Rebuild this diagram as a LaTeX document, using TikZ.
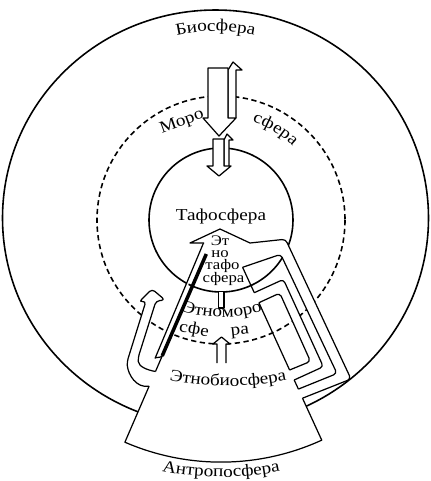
\documentclass[tikz,border=0pt]{standalone}
\usepackage{fontspec}
\setmainfont{Liberation Serif}[FakeStretch=1.15]
\usetikzlibrary{decorations.text}
\newcommand{\lblfont}{\fontsize{9.5}{11}\selectfont}
\newcommand{\stackfont}{\fontsize{8.3}{9}\selectfont}

\begin{document}
\lblfont
\begin{tikzpicture}[x=0.2mm,y=-0.2mm,line join=round,line width=0.7pt,
  sphere/.style={line width=0.9pt},
  moro/.style={line width=0.9pt,dash pattern=on 3pt off 2pt},
  band/.style={fill=white,rounded corners=2pt},
  lbl/.style={font=\lblfont,inner sep=0pt},
  stacklbl/.style={font=\stackfont,inner sep=0pt,anchor=base},
  curvelbl/.style={decorate,decoration={text along path,text align=center,text={|\lblfont|#1}}}]
  \useasboundingbox (0,0) rectangle (430,481);
  \coordinate (O) at (221,220);
  % spheres
  \draw[sphere] (215.5,218) ellipse [x radius=213, y radius=208];
  \fill[white] (O) -- (124.9,442.2) arc[start angle=113.4,end angle=65.4,radius=242] -- cycle;
  \draw[moro] (O) circle[radius=124];
  \draw[sphere] (O) circle[radius=72];
  % bio -> moro -> tafo
  \draw[fill=white] (228,118) -- (228,70) -- (233,62) -- (242,70) -- (236,70) -- (236,118);
  \draw[fill=white] (208,68) -- (228,68) -- (228,118) -- (236,118) -- (219,136) -- (203,118) -- (208,118) -- cycle;
  \draw[fill=white] (224,166) -- (224,140) -- (227,134) -- (233,140) -- (229,140) -- (229,166);
  \draw[fill=white] (213,139) -- (224,139) -- (224,166) -- (231,166) -- (219,176) -- (207,166) -- (213,166) -- cycle;
  % left return arrow
  \draw[band] (149.1,386.2) to[out=190,in=-85] (127,362) -- (146,301) -- (139,302) -- (152,289)
    -- (165,300) -- (156,301) -- (138,358) to[out=-85,in=170] (155.5,371.5);
  \draw[band] (203.9,242) -- (156.5,354.9) to[out=247,in=247] (162.2,355.9);
  % right return bands
  \coordinate (tO1) at (250,243);
  \coordinate (tO2) at (285.5,239.2);
  \coordinate (tO3) at (351,379);
  \coordinate (tO4) at (302.5,398.2);
  \coordinate (tI1) at (242.6,267.3);
  \coordinate (tI2) at (280.7,254.3);
  \coordinate (tI3) at (337,373.5);
  \coordinate (tI4) at (298.4,389.1);
  \coordinate (mO1) at (254.3,292.7);
  \coordinate (mO2) at (283.4,279.4);
  \coordinate (mO3) at (323.3,366.7);
  \coordinate (mO4) at (294.2,380);
  \coordinate (mI1) at (258.9,302.7);
  \coordinate (mI2) at (279.8,293.1);
  \coordinate (mI3) at (310.5,361.4);
  \coordinate (mI4) at (289.6,370);
  \fill[white,rounded corners=2pt] (tO1) -- (tO2) -- (tO3) -- (tO4) -- (tI4) -- (tI3) -- (tI2) -- (tI1) -- cycle;
  \draw[rounded corners=2pt] (tO1) -- (tO2) -- (tO3) -- (tO4);
  \draw[rounded corners=2pt] (tI1) -- (tI2) -- (tI3) -- (tI4);
  \fill[white,rounded corners=2pt] (mO1) -- (mO2) -- (mO3) -- (mO4) -- (mI4) -- (mI3) -- (mI2) -- (mI1) -- cycle;
  \draw[rounded corners=2pt] (mO1) -- (mO2) -- (mO3) -- (mO4);
  \draw[rounded corners=2pt] (mI1) -- (mI2) -- (mI3) -- (mI4);
  % ethno -> tafo
  \draw[fill=white] (204,243) -- (190,243) -- (220,229) -- (250,243);
  % wedge
  \draw[line width=2pt] (206.3,254) -- (162.2,355.9);
  \draw (162.2,355.9) -- (155.5,371.5);
  \draw (tI1) -- (mO1);
  \draw (mI1) -- (mI4);
  \draw (mO4) -- (tI4);
  \draw (149.1,386.2) -- (124.9,442.2) arc[start angle=113.4,end angle=65.4,radius=242] -- (tO4);
  \draw[fill=white] (217,363) -- (217,344) -- (213,344) -- (221.5,337) -- (230,344) -- (226,344) -- (226,363);
  \draw[fill=white] (218.5,292) -- (218.5,308) -- (224,308) -- (224,292);
  % labels
  \path[curvelbl={Биосфера}] (215.5,218) ++(250:187) arc[start angle=250,end angle=290,radius=187];
  \node[lbl,rotate=20] (moro1) at (182,122) {Моро};
  \path[curvelbl={сфера}] (O) ++(-72:103) arc[start angle=-72,end angle=-46,radius=103];
  \node[lbl] (tafo) at (221,216) {Тафосфера};
  \node[stacklbl] (et1) at (220,245) {Эт};
  \node[stacklbl] (et2) at (220,257.5) {но};
  \node[stacklbl] (et3) at (222.5,269.5) {тафо};
  \node[stacklbl] (et4) at (223.5,282) {сфера};
  \path[curvelbl={Этноморо}] (222,177) ++(115:140) arc[start angle=115,end angle=65,radius=140];
  \node[lbl,rotate=-10] (em1) at (194,330) {сфе};
  \node[lbl,rotate=6] (em2) at (240,332) {ра};
  \path[curvelbl={Этнобиосфера}] (228,86) ++(115:300) arc[start angle=115,end angle=65,radius=300];
  \path[curvelbl={Антропосфера}] (221,177) ++(120:300) arc[start angle=120,end angle=60,radius=300];
\end{tikzpicture}
\end{document}
